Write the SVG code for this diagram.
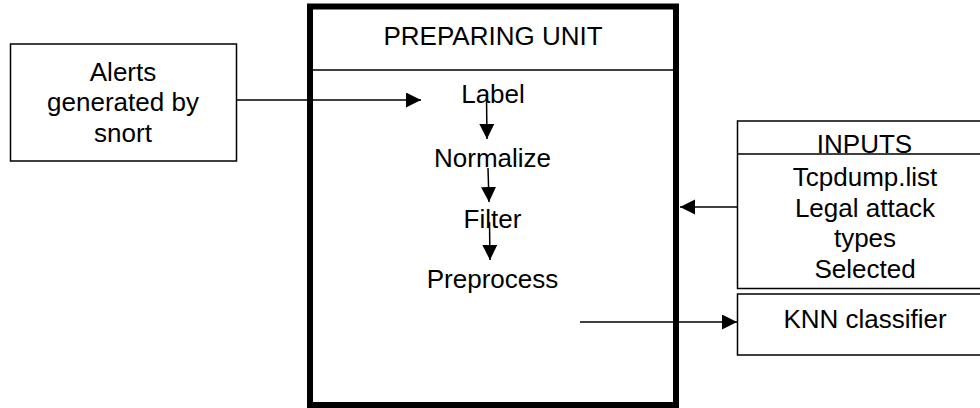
<svg xmlns="http://www.w3.org/2000/svg" width="980" height="408" viewBox="0 0 980 408">
<style>
.box{fill:#fff;stroke:#000;stroke-width:1.5}
.frame{fill:#fff;stroke:#000;stroke-width:6}
.t{font-family:"Liberation Sans",Arial,sans-serif;font-size:26px;fill:#000;text-anchor:middle}
.c{stroke:#000;stroke-width:1.5;fill:none;marker-end:url(#ah)}
</style>
<defs>
<marker id="ah" markerUnits="userSpaceOnUse" markerWidth="16" markerHeight="16" refX="15" refY="7.5" orient="auto">
<path d="M0,0 L15,7.5 L0,15 z" fill="#000"/>
</marker>
</defs>
<g id="preparing-unit">
<rect class="frame" x="310" y="6.5" width="366" height="398.5"/>
<line x1="310" y1="70" x2="676" y2="70" stroke="#000" stroke-width="1.5"/>
<text class="t" x="493" y="45">PREPARING UNIT</text>
</g>
<g id="alerts">
<rect class="box" x="10.5" y="44" width="226" height="117"/>
<text class="t" x="123" y="81">Alerts</text>
<text class="t" x="123" y="111">generated by</text>
<text class="t" x="123" y="142">snort</text>
</g>
<g id="label"><text class="t" x="493" y="103">Label</text></g>
<g id="normalize"><text class="t" x="492.5" y="167">Normalize</text></g>
<g id="filter"><text class="t" x="492.5" y="228">Filter</text></g>
<g id="preprocess"><text class="t" x="492.5" y="288">Preprocess</text></g>
<g id="inputs">
<rect class="box" x="737.5" y="121" width="255" height="167.5"/>
<line x1="737.5" y1="154" x2="992" y2="154" stroke="#000" stroke-width="1.5"/>
<text class="t" x="864.5" y="153">INPUTS</text>
<text class="t" x="865" y="186">Tcpdump.list</text>
<text class="t" x="865" y="217">Legal attack</text>
<text class="t" x="865" y="247">types</text>
<text class="t" x="865" y="278">Selected</text>
</g>
<g id="knn">
<rect class="box" x="737.5" y="294" width="255" height="61"/>
<text class="t" x="865" y="328">KNN classifier</text>
</g>
<g id="connectors">
<line class="c" x1="236.5" y1="100" x2="421" y2="100"/>
<line class="c" x1="486.5" y1="96" x2="487" y2="139"/>
<line class="c" x1="488" y1="168" x2="489" y2="202"/>
<line class="c" x1="489.5" y1="222" x2="490" y2="260"/>
<line class="c" x1="737.5" y1="207" x2="680" y2="207"/>
<line class="c" x1="580" y1="322" x2="737" y2="322"/>
</g>
</svg>
